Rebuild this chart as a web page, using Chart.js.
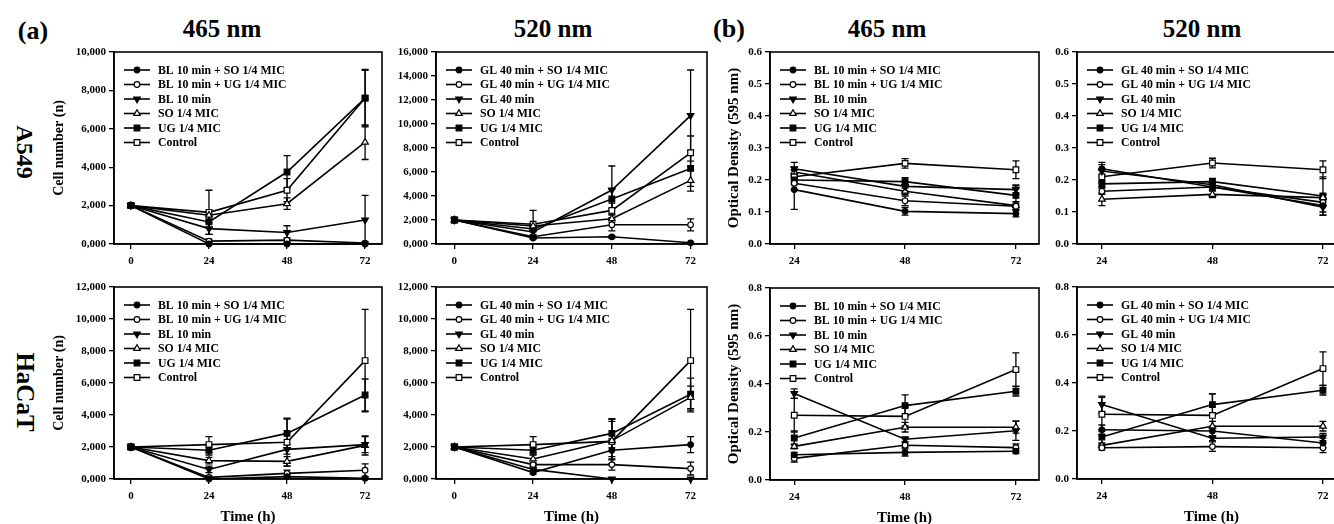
<!DOCTYPE html>
<html>
<head>
<meta charset="utf-8">
<script src="https://cdn.jsdelivr.net/npm/chart.js@4.4.1/dist/chart.umd.min.js"></script>
<style>
html,body{margin:0;padding:0;width:1334px;height:524px;overflow:hidden;background:#fff;position:relative;}
canvas{position:absolute;}
.lbl{position:absolute;font-family:"Liberation Serif","Times New Roman",serif;font-weight:bold;color:#000;white-space:nowrap;line-height:1;transform:translate(-50%,-50%);}
</style>
</head>
<body>
<div class="lbl" style="left:33px;top:31px;font-size:26px;">(a)</div>
<div class="lbl" style="left:222px;top:28px;font-size:25px;">465 nm</div>
<div class="lbl" style="left:553px;top:28px;font-size:25px;">520 nm</div>
<div class="lbl" style="left:729px;top:29px;font-size:26px;">(b)</div>
<div class="lbl" style="left:887px;top:28px;font-size:25px;">465 nm</div>
<div class="lbl" style="left:1202px;top:28px;font-size:25px;">520 nm</div>
<div class="lbl" style="left:25px;top:152px;font-size:24px;transform:translate(-50%,-50%) rotate(90deg);">A549</div>
<div class="lbl" style="left:25px;top:392px;font-size:25px;transform:translate(-50%,-50%) rotate(90deg);">HaCaT</div>
<script>
// ---------- categories / tick labels ----------
const hoursCell = [0, 24, 48, 72];
const hoursOD = [24, 48, 72];
const seriesBL = ['BL 10 min + SO 1/4 MIC', 'BL 10 min + UG 1/4 MIC', 'BL 10 min', 'SO 1/4 MIC', 'UG 1/4 MIC', 'Control'];
const seriesGL = ['GL 40 min + SO 1/4 MIC', 'GL 40 min + UG 1/4 MIC', 'GL 40 min', 'SO 1/4 MIC', 'UG 1/4 MIC', 'Control'];
const cellTicksA549_465 = ['0,000', '2,000', '4,000', '6,000', '8,000', '10,000'];
const cellTicksA549_520 = ['0,000', '2,000', '4,000', '6,000', '8,000', '10,000', '12,000', '14,000', '16,000'];
const cellTicksHaCaT = ['0,000', '2,000', '4,000', '6,000', '8,000', '10,000', '12,000'];
const odTicksA549 = ['0.0', '0.1', '0.2', '0.3', '0.4', '0.5', '0.6'];
const odTicksHaCaT = ['0.0', '0.2', '0.4', '0.6', '0.8'];

// ---------- series values (rows follow the legend order) ----------
const a549Cell465Mean = [[2000, 0, 0, 0], [2000, 150, 200, 50], [2000, 800, 600, 1250], [2000, 1500, 2100, 5300], [2000, 1150, 3750, 7600], [2000, 1650, 2800, 7600]];
const a549Cell465Err  = [[0, 60, 60, 40], [0, 100, 120, 60], [0, 300, 350, 1280], [0, 200, 300, 900], [0, 300, 850, 1450], [0, 1150, 600, 1500]];
const a549Cell520Mean = [[2000, 500, 600, 100], [2000, 600, 1600, 1600], [2000, 1000, 4500, 10700], [2000, 1500, 2100, 5300], [2000, 1250, 3750, 6300], [2000, 1650, 2800, 7600]];
const a549Cell520Err  = [[0, 100, 100, 60], [0, 100, 500, 500], [0, 250, 2000, 3800], [0, 200, 300, 900], [0, 200, 800, 1500], [0, 1150, 600, 1400]];
const a549OD465Mean = [[0.17, 0.102, 0.095], [0.19, 0.135, 0.118], [0.235, 0.18, 0.17], [0.225, 0.165, 0.12], [0.2, 0.195, 0.152], [0.21, 0.252, 0.232]];
const a549OD465Err  = [[0.062, 0.012, 0.01], [0.02, 0.015, 0.01], [0.02, 0.015, 0.015], [0.015, 0.01, 0.012], [0.015, 0.012, 0.03], [0.02, 0.015, 0.028]];
const a549OD520Mean = [[0.235, 0.178, 0.12], [0.165, 0.178, 0.13], [0.228, 0.185, 0.115], [0.14, 0.155, 0.145], [0.188, 0.195, 0.15], [0.21, 0.253, 0.232]];
const a549OD520Err  = [[0.02, 0.01, 0.02], [0.01, 0.01, 0.01], [0.02, 0.01, 0.025], [0.02, 0.01, 0.01], [0.01, 0.01, 0.06], [0.02, 0.015, 0.028]];
const hacatCell465Mean = [[2000, 0, 150, 50], [2000, 100, 350, 550], [2000, 600, 1850, 2150], [2000, 1150, 1100, 2100], [2000, 1800, 2850, 5250], [2000, 2150, 2300, 7400]];
const hacatCell465Err  = [[0, 80, 100, 50], [0, 100, 200, 400], [0, 200, 300, 500], [0, 200, 300, 600], [0, 300, 900, 1000], [0, 500, 1500, 3200]];
const hacatCell520Mean = [[2000, 400, 1800, 2150], [2000, 900, 900, 650], [2000, 600, 0, 0], [2000, 1250, 2400, 5100], [2000, 1800, 2850, 5300], [2000, 2150, 2350, 7400]];
const hacatCell520Err  = [[0, 100, 400, 500], [0, 100, 350, 400], [0, 100, 50, 50], [0, 300, 1200, 700], [0, 300, 900, 1000], [0, 500, 1400, 3200]];
const hacatOD465Mean = [[0.105, 0.115, 0.12], [0.09, 0.145, 0.135], [0.36, 0.17, 0.205], [0.14, 0.22, 0.22], [0.175, 0.31, 0.37], [0.27, 0.265, 0.46]];
const hacatOD465Err  = [[0.01, 0.015, 0.01], [0.015, 0.01, 0.015], [0.02, 0.01, 0.04], [0.01, 0.02, 0.025], [0.03, 0.045, 0.02], [0.07, 0.04, 0.07]];
const hacatOD520Mean = [[0.205, 0.2, 0.15], [0.13, 0.135, 0.13], [0.31, 0.17, 0.175], [0.14, 0.22, 0.22], [0.175, 0.31, 0.37], [0.27, 0.265, 0.46]];
const hacatOD520Err  = [[0.02, 0.02, 0.02], [0.01, 0.02, 0.02], [0.035, 0.01, 0.015], [0.01, 0.02, 0.02], [0.03, 0.045, 0.02], [0.07, 0.09, 0.07]];

// ---------- styles ----------
const FONT = "'Liberation Serif', 'Times New Roman', serif";
const STYLES = [
  {shape: 'circle', fill: '#000', rot: 0, r: 2.8},
  {shape: 'circle', fill: '#fff', rot: 0, r: 2.8},
  {shape: 'triangle', fill: '#000', rot: 180, r: 3.8},
  {shape: 'triangle', fill: '#fff', rot: 0, r: 3.8},
  {shape: 'rect', fill: '#000', rot: 0, r: 4.0},
  {shape: 'rect', fill: '#fff', rot: 0, r: 4.0}
];

function drawMarker(ctx, st, x, y) {
  ctx.save();
  ctx.beginPath();
  if (st.shape === 'circle') {
    ctx.arc(x, y, st.r, 0, Math.PI * 2);
  } else if (st.shape === 'triangle') {
    let rad = st.rot * Math.PI / 180;
    for (let k = 0; k < 3; k++) {
      const px = x + Math.sin(rad) * st.r, py = y - Math.cos(rad) * st.r;
      if (k === 0) ctx.moveTo(px, py); else ctx.lineTo(px, py);
      rad += 2 * Math.PI / 3;
    }
    ctx.closePath();
  } else {
    const s = Math.SQRT1_2 * st.r;
    ctx.rect(x - s, y - s, 2 * s, 2 * s);
  }
  ctx.fillStyle = st.fill; ctx.fill();
  ctx.lineWidth = 1.2; ctx.strokeStyle = '#000'; ctx.stroke();
  ctx.restore();
}

const errorBars = {
  id: 'errorBars',
  beforeDatasetsDraw(chart) {
    const {ctx, chartArea: ca, scales: {x, y}} = chart;
    ctx.save();
    ctx.beginPath(); ctx.rect(ca.left - 2, ca.top - 2, ca.right - ca.left + 4, ca.bottom - ca.top + 4); ctx.clip();
    ctx.strokeStyle = '#000'; ctx.lineWidth = 1.3;
    chart.data.datasets.forEach(ds => {
      ds.data.forEach((pt, i) => {
        const e = ds.errors[i];
        if (!e) return;
        const px = x.getPixelForValue(pt.x);
        const yt = y.getPixelForValue(pt.y + e);
        const yb = y.getPixelForValue(Math.max(pt.y - e, 0));
        ctx.beginPath();
        ctx.moveTo(px, yt); ctx.lineTo(px, yb);
        ctx.moveTo(px - 3.5, yt); ctx.lineTo(px + 3.5, yt);
        if (pt.y - e > 0) { ctx.moveTo(px - 3.5, yb); ctx.lineTo(px + 3.5, yb); }
        ctx.stroke();
      });
    });
    ctx.restore();
  }
};

const frame = {
  id: 'frame',
  afterDraw(chart) {
    const {ctx, chartArea: ca} = chart;
    ctx.save();
    ctx.strokeStyle = '#000'; ctx.lineWidth = 1.6;
    ctx.strokeRect(ca.left, ca.top, ca.right - ca.left, ca.bottom - ca.top);
    ctx.restore();
  }
};

const innerLegend = {
  id: 'innerLegend',
  afterDraw(chart) {
    const {ctx, chartArea: ca} = chart;
    ctx.save();
    ctx.font = "bold 11.8px " + FONT;
    ctx.textBaseline = 'middle'; ctx.textAlign = 'left'; ctx.fillStyle = '#000';
    chart.data.datasets.forEach((ds, k) => {
      const y = ca.top + 18 + k * 14.5;
      ctx.strokeStyle = '#000'; ctx.lineWidth = 1.6;
      ctx.beginPath(); ctx.moveTo(ca.left + 10, y); ctx.lineTo(ca.left + 36, y); ctx.stroke();
      drawMarker(ctx, STYLES[k], ca.left + 23, y);
      ctx.fillText(ds.label, ca.left + 44, y + 0.5);
    });
    ctx.restore();
  }
};

const PANELS = [
  {left: 114, right: 382, top: 52, bottom: 244, names: seriesBL, xs: hoursCell, mean: a549Cell465Mean, err: a549Cell465Err, yTicks: cellTicksA549_465, yStep: 2000, xMin: -5.2, xMax: 77.2, yTitle: 'Cell number (n)', yTitleSize: 14, yTitlePad: 10.6},
  {left: 436, right: 707, top: 52, bottom: 244, names: seriesGL, xs: hoursCell, mean: a549Cell520Mean, err: a549Cell520Err, yTicks: cellTicksA549_520, yStep: 2000, xMin: -5.6, xMax: 77},
  {left: 770, right: 1039, top: 52, bottom: 244, names: seriesBL, xs: hoursOD, mean: a549OD465Mean, err: a549OD465Err, yTicks: odTicksA549, yStep: 0.1, xMin: 18.75, xMax: 77, yTitle: 'Optical Density (595 nm)', yTitleSize: 15, yTitlePad: 29.5},
  {left: 1077, right: 1346, top: 52, bottom: 244, names: seriesGL, xs: hoursOD, mean: a549OD520Mean, err: a549OD520Err, yTicks: odTicksA549, yStep: 0.1, xMin: 18.6, xMax: 77},
  {left: 114, right: 382, top: 287, bottom: 479, names: seriesBL, xs: hoursCell, mean: hacatCell465Mean, err: hacatCell465Err, yTicks: cellTicksHaCaT, yStep: 2000, xMin: -5.2, xMax: 77.2, yTitle: 'Cell number (n)', yTitleSize: 14, yTitlePad: 10.6, xTitle: 'Time (h)'},
  {left: 436, right: 707, top: 287, bottom: 479, names: seriesGL, xs: hoursCell, mean: hacatCell520Mean, err: hacatCell520Err, yTicks: cellTicksHaCaT, yStep: 2000, xMin: -5.6, xMax: 77, xTitle: 'Time (h)'},
  {left: 770, right: 1039, top: 288, bottom: 480, names: seriesBL, xs: hoursOD, mean: hacatOD465Mean, err: hacatOD465Err, yTicks: odTicksHaCaT, yStep: 0.2, xMin: 18.75, xMax: 77, yTitle: 'Optical Density (595 nm)', yTitleSize: 15, yTitlePad: 29.5, xTitle: 'Time (h)'},
  {left: 1077, right: 1346, top: 287, bottom: 479, names: seriesGL, xs: hoursOD, mean: hacatOD520Mean, err: hacatOD520Err, yTicks: odTicksHaCaT, yStep: 0.2, xMin: 18.6, xMax: 77, xTitle: 'Time (h)'}
];

const WY = 74, PT = 12, PR = 6;

function makePanel(p) {
  const hx = p.xTitle ? 47 : 32;
  const w = WY + (p.right - p.left) + PR;
  const h = PT + (p.bottom - p.top) + hx;
  const cv = document.createElement('canvas');
  cv.width = w; cv.height = h;
  cv.style.left = (p.left - WY) + 'px'; cv.style.top = (p.top - PT) + 'px';
  cv.style.width = w + 'px'; cv.style.height = h + 'px';
  document.body.appendChild(cv);
  const yVals = p.yTicks.map((_, i) => +(i * p.yStep).toFixed(4));
  const tickFont = {family: FONT, size: 11, weight: 'bold'};
  new Chart(cv, {
    type: 'line',
    data: {
      datasets: p.names.map((name, k) => ({
        label: name,
        data: p.xs.map((x, j) => ({x: x, y: p.mean[k][j]})),
        errors: p.err[k],
        borderColor: '#000', borderWidth: 1.6, tension: 0, fill: false,
        pointStyle: STYLES[k].shape, pointRotation: STYLES[k].rot, pointRadius: STYLES[k].r,
        pointBackgroundColor: STYLES[k].fill, pointBorderColor: '#000', pointBorderWidth: 1.2,
        clip: 5
      }))
    },
    options: {
      responsive: false, animation: false, events: [],
      layout: {padding: {left: 0, top: PT, right: PR, bottom: 0}},
      plugins: {legend: {display: false}, tooltip: {enabled: false}},
      scales: {
        x: {
          type: 'linear', min: p.xMin, max: p.xMax,
          afterBuildTicks: s => { s.ticks = p.xs.map(v => ({value: v})); },
          afterFit: s => { s.height = hx; },
          grid: {display: true, drawOnChartArea: false, drawTicks: true, tickLength: 5, color: '#000', lineWidth: 1.3},
          border: {display: true, color: '#000', width: 1.6},
          ticks: {color: '#000', font: tickFont, padding: 6, maxRotation: 0, autoSkip: false, callback: v => String(v)},
          title: p.xTitle ? {display: true, text: p.xTitle, color: '#000', font: {family: FONT, size: 15, weight: 'bold'}, padding: {top: 0, bottom: 0}} : {display: false}
        },
        y: {
          type: 'linear', min: 0, max: yVals[yVals.length - 1],
          afterBuildTicks: s => { s.ticks = yVals.map(v => ({value: v})); },
          afterFit: s => { s.width = WY; },
          grid: {display: true, drawOnChartArea: false, drawTicks: true, tickLength: 5, color: '#000', lineWidth: 1.3},
          border: {display: true, color: '#000', width: 1.6},
          ticks: {color: '#000', font: tickFont, padding: 3, autoSkip: false, callback: (v, i) => p.yTicks[i]},
          title: p.yTitle ? {display: true, text: p.yTitle, color: '#000', font: {family: FONT, size: p.yTitleSize, weight: 'bold'}, padding: {top: p.yTitlePad, bottom: 0}} : {display: false}
        }
      }
    },
    plugins: [errorBars, frame, innerLegend]
  });
}

PANELS.forEach(makePanel);
</script>
</body>
</html>
